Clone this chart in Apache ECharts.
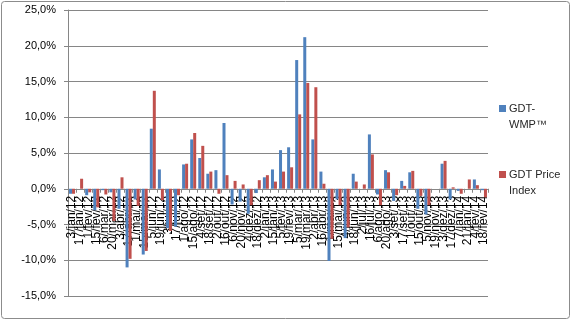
<!DOCTYPE html>
<html>
<head>
<meta charset="utf-8">
<script src="https://cdn.jsdelivr.net/npm/echarts@6/dist/echarts.min.js"></script>
<style>
html,body{margin:0;padding:0;background:#fff;}
#c{width:572px;height:321px;}
</style>
</head>
<body>
<div id="c"></div>
<script>
var categories = ["3/jan/12","17/jan/12","1/fev/12","15/fev/12","6/mar/12","20/mar/12","3/abr/12","17/abr/12","1/mai/12","15/mai/12","5/jun/12","19/jun/12","3/jul/12","17/jul/12","1/ago/12","15/ago/12","4/set/12","18/set/12","2/out/12","16/out/12","6/nov/12","20/nov/12","4/dez/12","18/dez/12","2/jan/13","15/jan/13","5/fev/13","19/fev/13","5/mar/13","19/mar/13","2/abr/13","16/abr/13","1/mai/13","15/mai/13","4/jun/13","18/jun/13","2/jul/13","16/jul/13","6/ago/13","20/ago/13","3/set/13","17/set/13","1/out/13","15/out/13","5/nov/13","19/nov/13","3/dez/13","17/dez/13","7/jan/14","21/jan/14","4/fev/14","18/fev/14"];
var wmpValues = [-0.7,0,-0.9,-3.0,-0.2,-0.5,-2.8,-11.0,-1.5,-9.2,8.4,2.7,-5.5,-5.3,3.4,6.9,4.3,2.1,2.6,9.2,-2.2,-1.8,-3.5,-0.6,1.6,2.7,5.4,5.8,18.0,21.2,6.9,2.4,-10.1,-1.5,-6.9,2.1,0,7.6,-0.8,2.6,-1.7,1.1,2.3,-2.8,-3.6,0,3.5,-1.5,-0.3,0,1.3,-0.2];
var priceIndexValues = [-0.7,1.4,-0.5,-2.6,-0.8,-4.5,1.6,-9.8,-2.4,-8.7,13.7,-1.6,-5.9,-0.9,3.5,7.8,6.0,2.4,-0.7,1.9,1.1,0.6,-2.3,1.2,1.9,1.0,2.4,3.0,10.4,14.8,14.2,0.7,-7.0,-2.3,-5.4,1.0,0.6,4.8,-2.3,2.3,-0.9,0.4,2.5,-1.0,-2.3,0,3.9,0.2,-0.7,1.3,0.5,-1.2];
var seriesNames = ["GDT-\nWMP™","GDT Price\nIndex"];
var yTicks = {min:-15, max:25, interval:5};

var gridTop = 10, gridBottom = 25, H = 321;
var plotH = H - gridTop - gridBottom;
// distance from bottom edge of plot to the zero line, derived from the axis range
var zeroOffset = plotH * (0 - yTicks.min) / (yTicks.max - yTicks.min);

var chart = echarts.init(document.getElementById('c'), null, {renderer:'canvas'});
var font = 'Liberation Sans, Arial, sans-serif';
var iconPath = 'path://M0,0h10v10h-10z M0,34h0.05v0.05h-0.05z';
chart.setOption({
  animation:false,
  backgroundColor:'#ffffff',
  textStyle:{fontFamily:font},
  graphic:[{type:'rect',shape:{x:1.5,y:1.5,width:568,height:317,r:3},style:{fill:'none',stroke:'#8c8c8c',lineWidth:1},silent:true}],
  grid:{left:68,right:84,top:gridTop,bottom:gridBottom,containLabel:false,outerBoundsMode:'none'},
  legend:{
    orient:'vertical', left:494, top:96, itemGap:34,
    itemWidth:7, itemHeight:24, icon:iconPath, itemStyle:{borderWidth:0},
    textStyle:{fontFamily:font,fontSize:11,color:'#262626',lineHeight:16,padding:[0,0,0,-2]},
    data:seriesNames
  },
  xAxis:{
    type:'category', data:categories, position:'bottom', offset:-zeroOffset,
    axisLine:{onZero:false,lineStyle:{color:'#868686',width:1}},
    axisTick:{show:true,length:4,alignWithLabel:false,lineStyle:{color:'#868686'}},
    axisLabel:{interval:0,rotate:90,margin:7,fontSize:12,color:'#000',fontFamily:font,hideOverlap:false}
  },
  yAxis:{
    type:'value', min:yTicks.min, max:yTicks.max, interval:yTicks.interval,
    axisLine:{show:true,lineStyle:{color:'#868686'}},
    axisTick:{show:true,length:4,inside:false,lineStyle:{color:'#868686'}},
    splitLine:{show:true,lineStyle:{color:'#868686',width:1}},
    axisLabel:{fontSize:11,color:'#000',margin:12,fontFamily:font,
      formatter:function(v){return v.toFixed(1).replace('.',',')+'%';}}
  },
  series:[
    {name:seriesNames[0],type:'bar',data:wmpValues,barWidth:3,barGap:'0%',itemStyle:{color:'#4F81BD'}},
    {name:seriesNames[1],type:'bar',data:priceIndexValues,barWidth:3,barGap:'0%',itemStyle:{color:'#C0504D'}}
  ]
});
</script>
</body>
</html>
